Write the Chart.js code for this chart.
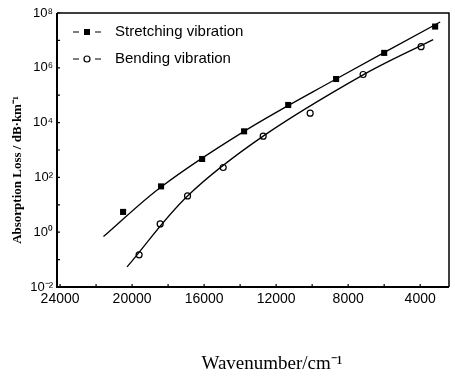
<!DOCTYPE html>
<html><head><meta charset="utf-8">
<script src="https://cdn.jsdelivr.net/npm/chart.js@4.4.0/dist/chart.umd.min.js"></script>
<style>html,body{margin:0;padding:0;background:#fff;}#wrap{width:455px;height:378px;}</style>
</head><body><div id="wrap"><canvas id="c" width="455" height="378"></canvas></div>
<script>
// Measured points
const stretchWavenumber = [20500, 18390, 16110, 13780, 11330, 8670, 6000, 3170];
const stretchLoss       = [5.5, 47, 470, 4800, 4.4e4, 3.9e5, 3.5e6, 3.2e7];
const bendWavenumber    = [19610, 18440, 16920, 14940, 12720, 10110, 7170, 3950];
const bendLoss          = [0.15, 2.0, 21, 230, 3200, 2.2e4, 5.7e5, 5.9e6];
// Fitted curves
const stretchFitWavenumber = [21590, 18390, 13780, 8670, 2890];
const stretchFitLoss       = [0.69, 45, 4800, 3.9e5, 4.7e7];
const bendFitWavenumber    = [20280, 16920, 12720, 7170, 3280];
const bendFitLoss          = [0.054, 21, 3200, 5.5e5, 1.07e7];
// Ticks
const xTickValues  = [24000, 22000, 20000, 18000, 16000, 14000, 12000, 10000, 8000, 6000, 4000];
const xLabelValues = [24000, 20000, 16000, 12000, 8000, 4000];
const yTickExponents  = [-2, -1, 0, 1, 2, 3, 4, 5, 6, 7, 8];
const yLabelExponents = [-2, 0, 2, 4, 6, 8];
const legendLabels = ['Stretching vibration', 'Bending vibration'];
const xTitle = 'Wavenumber/cm\u207B\u00B9';
const yTitle = 'Absorption Loss / dB\u00B7km\u207B\u00B9';

const sup = {'-':'\u207B','0':'\u2070','1':'\u00B9','2':'\u00B2','3':'\u00B3','4':'\u2074','5':'\u2075','6':'\u2076','7':'\u2077','8':'\u2078','9':'\u2079'};
const toSup = s => String(s).split('').map(c => sup[c] || c).join('');
const pts = (xs, ys) => xs.map((x, i) => ({x, y: ys[i]}));
const sansFont = "'Liberation Sans', Arial, sans-serif";
const serifFont = "'Liberation Serif', 'Times New Roman', serif";

const framePlugin = {
  id: 'frame',
  afterDraw(chart) {
    const {ctx, chartArea: a, scales} = chart;
    ctx.save();
    ctx.strokeStyle = '#000';
    // frame
    ctx.lineWidth = 1.5;
    ctx.beginPath();
    ctx.moveTo(a.left, a.top); ctx.lineTo(a.right, a.top); ctx.lineTo(a.right, a.bottom);
    ctx.stroke();
    ctx.lineWidth = 2;
    ctx.beginPath();
    ctx.moveTo(a.left, a.top); ctx.lineTo(a.left, a.bottom); ctx.lineTo(a.right, a.bottom);
    ctx.stroke();
    // inward ticks
    ctx.lineWidth = 1.2;
    ctx.beginPath();
    xTickValues.forEach(v => {
      const px = scales.x.getPixelForValue(v);
      ctx.moveTo(px, a.bottom); ctx.lineTo(px, a.bottom - 3);
    });
    yTickExponents.forEach(e => {
      const py = scales.y.getPixelForValue(Math.pow(10, e));
      ctx.moveTo(a.left, py); ctx.lineTo(a.left + 3, py);
    });
    ctx.stroke();
    // legend
    const rows = [32, 59];
    ctx.fillStyle = '#000';
    ctx.font = '15px ' + sansFont;
    ctx.textBaseline = 'middle';
    ctx.textAlign = 'left';
    rows.forEach((y, i) => {
      ctx.lineWidth = 1.2;
      ctx.beginPath();
      ctx.moveTo(73, y); ctx.lineTo(79, y);
      ctx.moveTo(95, y); ctx.lineTo(101, y);
      ctx.stroke();
      if (i === 0) {
        ctx.fillRect(84, y - 3, 6, 6);
      } else {
        ctx.beginPath();
        ctx.arc(87, y, 3, 0, Math.PI * 2);
        ctx.fillStyle = '#fff'; ctx.fill();
        ctx.strokeStyle = '#000'; ctx.stroke();
        ctx.fillStyle = '#000';
      }
      ctx.fillText(legendLabels[i], 115, y);
    });
    // axis titles
    ctx.font = '19px ' + serifFont;
    ctx.textAlign = 'center';
    ctx.fillText(xTitle, 272, 364);
    ctx.save();
    ctx.translate(18, 170);
    ctx.rotate(-Math.PI / 2);
    ctx.font = 'bold 13px ' + serifFont;
    ctx.fillText(yTitle, 0, 0);
    ctx.restore();
    ctx.restore();
  }
};

new Chart(document.getElementById('c'), {
  type: 'scatter',
  data: {
    datasets: [
      {label: 'Stretching fit', data: pts(stretchFitWavenumber, stretchFitLoss), showLine: true,
       borderColor: '#000', borderWidth: 1.3, pointRadius: 0, tension: 0.35, fill: false},
      {label: 'Bending fit', data: pts(bendFitWavenumber, bendFitLoss), showLine: true,
       borderColor: '#000', borderWidth: 1.3, pointRadius: 0, tension: 0.35, fill: false},
      {label: legendLabels[0], data: pts(stretchWavenumber, stretchLoss), showLine: false,
       pointStyle: 'rect', pointRadius: 4.3, backgroundColor: '#000', borderColor: '#000', borderWidth: 0},
      {label: legendLabels[1], data: pts(bendWavenumber, bendLoss), showLine: false,
       pointStyle: 'circle', pointRadius: 3, backgroundColor: '#fff', borderColor: '#000', borderWidth: 1.2}
    ]
  },
  options: {
    responsive: false,
    animation: false,
    devicePixelRatio: 1,
    layout: {padding: {top: 13, right: 6, left: 0, bottom: 0}},
    plugins: {legend: {display: false}, tooltip: {enabled: false}},
    scales: {
      x: {
        type: 'linear', reverse: true, min: 2400, max: 24170,
        afterBuildTicks: s => { s.ticks = xTickValues.map(v => ({value: v})); },
        afterFit: s => { s.height = 91; },
        grid: {display: false, drawTicks: false},
        border: {display: false},
        ticks: {autoSkip: false, maxRotation: 0, padding: 4, color: '#000',
                font: {family: sansFont, size: 14},
                callback: v => xLabelValues.includes(v) ? String(v) : ''}
      },
      y: {
        type: 'logarithmic', min: 1e-2, max: 1e8,
        afterBuildTicks: s => { s.ticks = yTickExponents.map(e => ({value: Math.pow(10, e)})); },
        afterFit: s => { s.width = 57; },
        grid: {display: false, drawTicks: false},
        border: {display: false},
        ticks: {autoSkip: false, padding: 4, color: '#000',
                font: {family: sansFont, size: 13},
                callback: v => { const e = Math.round(Math.log10(v)); return yLabelExponents.includes(e) ? '10' + toSup(e) : ''; }}
      }
    }
  },
  plugins: [framePlugin]
});
</script></body></html>
